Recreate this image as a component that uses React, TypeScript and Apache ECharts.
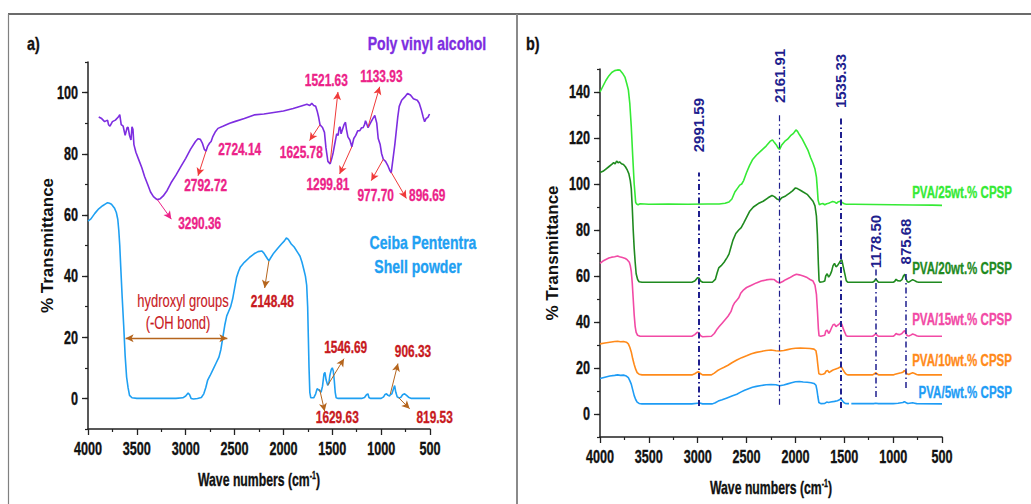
import React, { useEffect, useRef } from "react";
import * as echarts from "echarts";

// ---------- Panel a: spectra ----------
const pvaSpectrum: [number, number][] = [
  [3890, 92], [3860, 91.5], [3830, 90.5], [3800, 91], [3790, 89.5], [3775, 89], [3750, 90.5], [3720, 91],
  [3690, 92], [3675, 92.8], [3660, 89.5], [3640, 89], [3620, 86], [3600, 88.5], [3590, 88.7], [3575, 86],
  [3560, 84.5], [3550, 88.8], [3540, 88], [3530, 83], [3510, 80.5], [3480, 78], [3450, 75.5], [3420, 72.5],
  [3390, 70], [3360, 67.5], [3330, 66], [3300, 65.2], [3290.36, 65], [3260, 65.3], [3230, 66.2], [3190, 68],
  [3150, 70.5], [3100, 73], [3050, 75.8], [3000, 78.5], [2950, 81.5], [2900, 84], [2875, 84.9], [2850, 84.7],
  [2830, 83.5], [2810, 81.5], [2792.72, 80.8], [2775, 82.5], [2755, 83.5], [2740, 84], [2724.14, 85.5],
  [2700, 87], [2670, 88.3], [2620, 89], [2550, 90], [2500, 90.5], [2400, 91.5], [2300, 92.7], [2200, 93],
  [2100, 93.5], [2000, 94], [1900, 94.8], [1850, 95.3], [1800, 95.8], [1760, 96.2], [1730, 95.8], [1710, 96.5],
  [1690, 95.8], [1670, 95.5], [1655, 94], [1640, 92], [1625.78, 89.5], [1600, 88.6], [1580, 87], [1565, 82],
  [1545, 77.5], [1521.63, 76.7], [1505, 78.5], [1490, 80.5], [1470, 84], [1455, 86.5], [1440, 86], [1430, 88.5],
  [1420, 88.8], [1410, 86.5], [1395, 88], [1380, 89.5], [1365, 90.3], [1355, 88], [1340, 85.5], [1320, 84.5],
  [1299.81, 82.3], [1280, 85], [1260, 86], [1240, 87.5], [1220, 87.5], [1200, 88.5], [1185, 88.5], [1170, 89.5],
  [1160, 90.8], [1150, 90], [1133.93, 88.5], [1110, 90], [1085, 91.5], [1065, 92.5], [1045, 90], [1030, 85],
  [1010, 83], [995, 80], [977.7, 78.2], [955, 77.5], [930, 76], [910, 74.5], [896.69, 73.8], [880, 78],
  [860, 83], [845, 87.5], [830, 92], [815, 95.5], [790, 97.5], [760, 98.5], [730, 99.7], [700, 99.2],
  [670, 98], [630, 97.5], [610, 96.5], [590, 94.5], [570, 92], [555, 90.5], [540, 91.5], [520, 92], [505, 93],
];

const ceibaSpectrum: [number, number][] = [
  [4000, 58], [3970, 58.7], [3930, 60.5], [3890, 62], [3850, 63], [3820, 63.6], [3800, 64], [3780, 63.8],
  [3760, 63.5], [3730, 62.3], [3710, 60.8], [3695, 58.5], [3685, 55], [3675, 50], [3665, 43], [3650, 33],
  [3635, 24], [3620, 14], [3605, 7], [3590, 3.5], [3575, 1], [3550, 0.2], [3500, 0], [3300, 0], [3100, 0],
  [3030, 0.2], [3000, 0.8], [2975, 1.8], [2960, 1.2], [2945, 0], [2920, -0.2], [2880, 0], [2840, 0.3],
  [2815, 1.5], [2795, 3.5], [2775, 6], [2750, 7.5], [2720, 9.5], [2690, 11.5], [2660, 13.5], [2640, 16],
  [2620, 20], [2600, 24], [2580, 27], [2560, 28.5], [2540, 30], [2520, 32.5], [2500, 36], [2480, 39.5],
  [2460, 41.5], [2440, 43], [2400, 44.5], [2350, 46], [2300, 47.3], [2260, 48], [2220, 48.2], [2200, 47.5],
  [2180, 46.5], [2160, 45.5], [2148.48, 45], [2130, 46], [2100, 47.5], [2060, 49], [2020, 50.5], [1990, 51.5],
  [1970, 52.5], [1950, 52], [1920, 50.5], [1890, 49.5], [1860, 48], [1830, 46.5], [1810, 44.5], [1790, 42],
  [1775, 40], [1762, 37], [1752, 30], [1745, 20], [1738, 10], [1730, 2], [1720, 0.2], [1690, 0.2], [1670, 1.5],
  [1655, 3.2], [1640, 2.8], [1629.63, 2.5], [1615, 2], [1600, 4], [1585, 8], [1575, 8.5], [1563, 6],
  [1546.69, 4.3], [1535, 5], [1525, 7.5], [1510, 9.5], [1500, 10], [1490, 9], [1480, 6], [1470, 2], [1460, 0.2],
  [1440, 0], [1300, 0], [1200, 0], [1170, 0.3], [1150, 1.2], [1135, 1.5], [1125, 0.3], [1110, 0], [1000, 0],
  [975, 0.5], [960, 1.3], [945, 1.5], [930, 1], [915, 0.8], [906.33, 1.2], [890, 1.5], [875, 3], [862, 4.2],
  [850, 2], [835, 0.5], [819.53, 0.2], [800, 0.3], [780, 1.2], [760, 1.5], [740, 1], [720, 0.4], [690, 0],
  [600, 0], [500, 0],
];

// Peak callouts: [peak wavenumber, transmittance at peak, text x, text y, arrow head x, arrow head y]
const pvaPeaks: [number, number, number, number, number, number][] = [
  [3290.36, 65, 2857, 57.2, 3147, 58.6],
  [2792.72, 80.8, 2796, 69.8, 2874, 72.8],
  [1625.78, 89.5, 1817, 80.5, 1732, 84.3],
  [1521.63, 77.2, 1561, 104, 1442, 100.2],
  [1299.81, 82.3, 1544, 70, 1425, 73.4],
  [1133.93, 88.8, 998, 105.5, 1015, 101.9],
  [977.7, 78.2, 1056, 66.4, 1101, 71.2],
  [896.69, 73.9, 528, 66.4, 742, 65.4],
];
const pvaPlainLabels: [number, number, string][] = [[2448, 81.6, "2724.14"]];

const ceibaPeaks: [number, number, number, number, number, number][] = [
  [2148.48, 45, 2114, 31.7, 2192, 36.1],
  [1546.69, 4.3, 1363, 16.9, 1380, 13],
  [1629.63, 3, 1449, -6.1, 1578, -4.2],
  [906.33, 1.4, 674, 15.5, 828, 11.4],
  [819.53, 0.2, 453, -6.1, 708, -3.4],
];
const hydroxylSpan: [number, number, number] = [3615, 2574, 19.7];
const hydroxylText: [number, number, string][] = [
  [3028, 31.9, "hydroxyl groups"],
  [3079, 24.6, "(-OH bond)"],
];

// ---------- Panel b: composite films ----------
const pva25: [number, number][] = [
  [4000, 140], [3970, 142.5], [3940, 145], [3910, 147], [3880, 148.5], [3850, 149.3], [3820, 149.6], [3795, 149.5],
  [3770, 148.2], [3745, 146.5], [3725, 143.5], [3710, 141], [3695, 135], [3680, 125], [3665, 112], [3650, 100],
  [3635, 92], [3625, 91.3], [3610, 91], [3590, 91.4], [3500, 91.2], [3300, 91.3], [3100, 91.2], [2900, 91.3],
  [2780, 91.3], [2720, 91.6], [2680, 92.2], [2650, 93.5], [2620, 96.5], [2595, 98], [2570, 99.5], [2550, 100],
  [2530, 101.5], [2500, 105], [2470, 108], [2440, 110.5], [2400, 112.5], [2350, 114.5], [2300, 116.5],
  [2260, 118.5], [2235, 119.2], [2215, 118], [2195, 117], [2180, 115.8], [2161.91, 115], [2140, 117],
  [2110, 118.5], [2080, 119.5], [2050, 121], [2020, 122], [1995, 123.5], [1980, 123], [1960, 121.5],
  [1930, 119.5], [1900, 117], [1870, 114.5], [1845, 111.5], [1820, 109], [1800, 106.5], [1785, 103],
  [1776, 98], [1768, 93], [1755, 91], [1740, 91.3], [1720, 91.5], [1700, 91], [1680, 91.4], [1660, 91.6],
  [1640, 92], [1620, 92.4], [1600, 92.2], [1580, 91.6], [1560, 92.3], [1540, 92.5], [1520, 91.9], [1500, 91.4],
  [1480, 91.2], [1400, 91.2], [1200, 91.1], [1000, 91], [800, 90.9], [600, 90.8], [500, 90.7],
];

const pva20: [number, number][] = [
  [4000, 105], [3970, 105.5], [3940, 106.5], [3910, 107.5], [3880, 108.5], [3860, 109.3], [3845, 108.7],
  [3830, 110], [3815, 109.2], [3800, 109.6], [3780, 108.8], [3760, 108.5], [3740, 107.5], [3720, 106],
  [3705, 104.5], [3690, 101.5], [3680, 98], [3670, 90], [3660, 80], [3650, 72], [3640, 66], [3630, 61],
  [3615, 58.5], [3600, 57.5], [3570, 57.3], [3300, 57.3], [3060, 57.3], [3030, 57.8], [3000, 59.3], [2985, 59],
  [2970, 57.8], [2950, 57.3], [2850, 57.3], [2820, 58.5], [2800, 61.5], [2785, 63.5], [2760, 64.5], [2730, 66],
  [2700, 68], [2680, 69.5], [2660, 72.5], [2640, 75.5], [2610, 78.5], [2580, 80], [2555, 81], [2530, 83],
  [2500, 85.5], [2470, 88], [2430, 90], [2380, 91.5], [2330, 92.5], [2280, 94], [2240, 95], [2215, 94.5],
  [2190, 93.5], [2161.91, 93], [2140, 94], [2100, 94.8], [2060, 96], [2030, 97], [2000, 98.3], [1980, 98],
  [1950, 97.3], [1920, 96.5], [1880, 95.5], [1850, 94], [1820, 92.5], [1800, 90.5], [1785, 86], [1775, 78],
  [1765, 65], [1758, 58], [1750, 57.3], [1720, 57.5], [1700, 57.8], [1690, 60], [1675, 61], [1660, 59.5],
  [1645, 60.5], [1630, 62], [1615, 64.5], [1600, 65.5], [1585, 64], [1570, 64.5], [1555, 65.5], [1540, 66.5],
  [1525, 67], [1510, 64], [1495, 61], [1480, 58], [1465, 57.3], [1300, 57.3], [1210, 57.3], [1190, 57.8],
  [1178.5, 58.8], [1165, 58], [1150, 57.3], [1000, 57.3], [985, 57.6], [970, 58.6], [955, 58], [930, 57.8],
  [910, 58.4], [895, 60], [880, 60.8], [870, 59], [855, 57.5], [840, 57.3], [820, 57.9], [800, 58.4],
  [780, 58], [760, 57.5], [740, 57.3], [500, 57.3],
];

const pva15: [number, number][] = [
  [4000, 65.5], [3970, 66.5], [3940, 67.2], [3910, 67.8], [3880, 68.2], [3850, 68.4], [3820, 68.7], [3800, 68.4],
  [3770, 68], [3740, 67.6], [3720, 67], [3700, 66], [3690, 64.5], [3680, 62], [3670, 57], [3660, 50],
  [3650, 43], [3640, 38], [3630, 35.5], [3615, 34.2], [3590, 33.8], [3300, 33.8], [3060, 33.8], [3030, 34.5],
  [3005, 35.5], [2990, 35.3], [2970, 34], [2950, 33.6], [2860, 33.8], [2830, 35], [2800, 37], [2780, 38],
  [2750, 39.5], [2720, 41], [2690, 42.5], [2660, 44.5], [2640, 47], [2620, 48.5], [2600, 49.5], [2580, 50.5],
  [2560, 52.5], [2530, 54], [2500, 55], [2450, 56], [2400, 57], [2350, 57.8], [2300, 58.3], [2250, 58.6],
  [2220, 58.5], [2190, 57.5], [2161.91, 57], [2130, 57.6], [2100, 58.4], [2060, 59.2], [2020, 60.2],
  [1990, 60.8], [1960, 60.5], [1920, 60], [1880, 59.3], [1850, 58.5], [1820, 57.8], [1800, 56], [1785, 52],
  [1775, 45], [1765, 37], [1758, 34], [1740, 33.8], [1720, 34], [1700, 34.2], [1690, 36], [1675, 36.5],
  [1660, 35], [1645, 36], [1630, 37.5], [1615, 38.8], [1600, 39], [1585, 38], [1570, 38.5], [1555, 39],
  [1540, 39.7], [1525, 39], [1510, 37], [1495, 35.5], [1480, 34], [1465, 33.8], [1300, 33.8], [1210, 33.8],
  [1190, 34.4], [1178.5, 34.9], [1165, 34.3], [1150, 33.8], [1000, 33.8], [985, 34.2], [970, 35], [955, 34.6],
  [930, 34.5], [910, 35], [895, 35.8], [880, 36.3], [870, 35], [855, 34], [840, 33.9], [820, 34.3],
  [800, 34.8], [780, 34.5], [760, 34], [740, 33.8], [500, 33.8],
];

const pva10: [number, number][] = [
  [4000, 30.5], [3950, 30.9], [3900, 31.2], [3850, 31.5], [3820, 31.6], [3790, 31.4], [3760, 31.5], [3730, 31.2],
  [3710, 30.5], [3695, 29], [3680, 27], [3665, 24], [3650, 21.5], [3635, 19.5], [3620, 18], [3600, 17.3],
  [3570, 17], [3300, 17], [3060, 17], [3030, 17.5], [3005, 18.2], [2990, 18.3], [2970, 17.5], [2950, 17],
  [2860, 17], [2830, 17.8], [2800, 18.8], [2770, 19.5], [2730, 20.3], [2690, 21.2], [2650, 22.3], [2600, 23.5],
  [2550, 24.5], [2500, 25.3], [2450, 26.2], [2400, 26.8], [2350, 27.2], [2300, 27.6], [2250, 27.8], [2200, 27.5],
  [2161.91, 27.4], [2120, 27.6], [2080, 28], [2040, 28.4], [2000, 28.6], [1950, 28.7], [1900, 28.6], [1850, 28.5],
  [1810, 28.2], [1790, 27.5], [1780, 25], [1770, 21], [1760, 17.5], [1740, 17.2], [1720, 17.3], [1700, 17.6],
  [1685, 18.7], [1670, 18.9], [1655, 18], [1640, 18.5], [1620, 19], [1600, 19.4], [1580, 19.7], [1560, 20],
  [1540, 20.5], [1525, 20.2], [1510, 19], [1495, 18], [1480, 17.3], [1465, 17], [1300, 17], [1210, 17],
  [1190, 17.5], [1178.5, 18], [1165, 17.5], [1150, 17], [1000, 17], [980, 17.3], [950, 17.6], [920, 17.9],
  [900, 18.2], [885, 18.9], [875, 18.5], [860, 17.5], [840, 17.2], [820, 17.6], [800, 17.9], [780, 17.6],
  [760, 17.2], [740, 17], [500, 17],
];

const pva5: [number, number | string][] = [
  [4000, 15.4], [3950, 16], [3900, 16.5], [3850, 16.8], [3820, 17], [3790, 16.8], [3760, 16.9], [3730, 16.5],
  [3710, 15.8], [3695, 14.5], [3680, 13], [3665, 10.5], [3650, 8], [3635, 6.3], [3620, 5.2], [3600, 4.6],
  [3570, 4.4], [3300, 4.4], [3060, 4.4], [3000, 4.7], [2980, 4.8], [2950, 4.4], [2850, 4.4], [2820, 4.9],
  [2790, 5.6], [2750, 6.2], [2700, 7], [2650, 7.8], [2600, 8.6], [2560, 9.5], [2520, 10.3], [2480, 11],
  [2440, 11.6], [2400, 12], [2350, 12.4], [2300, 12.7], [2250, 12.8], [2200, 12.7], [2161.91, 12.3],
  [2120, 12.6], [2080, 13.1], [2040, 13.6], [2000, 14], [1960, 14.1], [1920, 13.9], [1880, 13.8], [1840, 13.6],
  [1810, 13.3], [1790, 12.5], [1780, 10.5], [1770, 7.5], [1760, 5], [1740, 4.5], [1700, 4.6], [1680, 5.2],
  [1660, 5], [1640, 5.2], [1600, 5.5], [1570, 5.8], [1550, 6.2], [1535.33, 6.5], [1520, 5.8], [1505, 5],
  [1490, 4.6], [1470, 4.5], [1452, 4.5], [1440, "-"], [1428, 4.5], [1300, 4.5], [1200, 4.5], [1178.5, 4.7],
  [1150, 4.5], [1000, 4.5], [950, 4.7], [900, 5], [885, 5.4], [870, 5], [850, 4.6], [800, 4.9], [780, 4.7],
  [760, 4.5], [500, 4.4],
];

const compositeNames = ["PVA/25wt.% CPSP", "PVA/20wt.% CPSP", "PVA/15wt.% CPSP", "PVA/10wt.% CPSP", "PVA/5wt.% CPSP"];
const compositeColors = ["#35ea35", "#1f8a1f", "#f24aa5", "#ff8a1a", "#1e9cf5"];
const compositeData = [pva25, pva20, pva15, pva10, pva5];
// vertical level (in % transmittance units) of each series name
const compositeNameLevels = [96.5, 63.5, 41.3, 23.5, 9.6];

// Marker lines in panel b: [wavenumber, lower end, upper end, label centre]
const bandMarkers: [number, number, number, number][] = [
  [2991.59, 3.5, 105, 125.6],
  [2161.91, 4, 131, 147],
  [1535.33, 2.6, 129.6, 144.8],
  [1178.5, 7.4, 64, 75],
  [875.68, 11.3, 61.7, 75],
];

const xTickValues = [4000, 3500, 3000, 2500, 2000, 1500, 1000, 500];
const yTicksA = [0, 20, 40, 60, 80, 100];
const yTicksB = [0, 20, 40, 60, 80, 100, 120, 140];

const FONT = "'Liberation Sans', Arial, sans-serif";
// horizontal squeeze applied to the condensed-looking horizontal texts
const SQUEEZE = 0.7;

const PVA_COLOR = "#7d2de0";
const CEIBA_COLOR = "#1fa0f2";
const PINK = "#ec2288";
const RED_ARROW = "#f03a3a";
const DARK_RED = "#c8191e";
const BROWN = "#b5651d";
const NAVY = "#1f1f8e";
const INK = "#111111";

function fmt(v: number) {
  return v.toFixed(2);
}

function arrowSeries(
  xi: number,
  yi: number,
  segs: [number, number, number, number][],
  color: string,
  symbol: string[],
  width = 1,
  dash: any = "solid"
) {
  return {
    type: "line",
    xAxisIndex: xi,
    yAxisIndex: yi,
    data: [],
    clip: false,
    silent: true,
    markLine: {
      silent: true,
      symbol,
      symbolSize: [6, 8],
      label: { show: false },
      emphasis: { disabled: true },
      lineStyle: { color, width, type: dash },
      data: segs.map(([x1, y1, x2, y2]) => [{ coord: [x1, y1] }, { coord: [x2, y2] }]),
    },
  };
}

function xAxisDef(gridIndex: number) {
  return {
    type: "value",
    gridIndex,
    min: 500,
    max: 4000,
    interval: 500,
    inverse: true,
    axisLine: { onZero: false, lineStyle: { color: "#222", width: 1.5 } },
    axisTick: { show: true, inside: false, length: 6, lineStyle: { color: "#222", width: 1.3 } },
    minorTick: { show: true, splitNumber: 2, length: 3, lineStyle: { color: "#222", width: 1.2 } },
    axisLabel: { show: false },
    splitLine: { show: false },
  };
}

function yAxisPair(gridIndex: number, min: number, max: number, ticks: number[]) {
  return [
    {
      type: "value",
      gridIndex,
      position: "left",
      min,
      max,
      axisLine: { onZero: false, lineStyle: { color: "#222", width: 1.5 } },
      axisTick: { show: true, inside: false, length: 6, customValues: ticks, lineStyle: { color: "#222", width: 1.3 } },
      axisLabel: { show: false },
      splitLine: { show: false },
    },
    {
      type: "value",
      gridIndex,
      position: "left",
      min,
      max,
      interval: 10,
      axisLine: { show: false, onZero: false },
      axisTick: { show: true, inside: false, length: 3, lineStyle: { color: "#222", width: 1.2 } },
      axisLabel: { show: false },
      splitLine: { show: false },
    },
  ];
}

function flatText(
  x: number,
  y: number,
  text: string,
  fill: string,
  size: number,
  weight = "bold",
  align = "center",
  squeeze = SQUEEZE,
  rich?: any
) {
  return {
    type: "text",
    x,
    y,
    scaleX: squeeze,
    silent: true,
    z: 20,
    style: {
      text,
      fill,
      stroke: fill,
      lineWidth: weight === "bold" ? 0.35 : 0.15,
      fontSize: size,
      fontWeight: weight,
      fontFamily: FONT,
      align,
      verticalAlign: "middle",
      rich,
    },
  };
}

function upText(x: number, y: number, text: string, fill: string, size: number) {
  return {
    type: "text",
    x,
    y,
    rotation: Math.PI / 2,
    silent: true,
    z: 20,
    style: { text, fill, fontSize: size, fontWeight: "bold", fontFamily: FONT, align: "center", verticalAlign: "middle" },
  };
}

export default function App() {
  const ref = useRef<HTMLDivElement>(null);

  useEffect(() => {
    if (!ref.current) return;
    const chart = echarts.init(ref.current, null, { renderer: "svg" });

    const series: any[] = [];

    // panel a curves
    series.push({
      type: "line",
      name: "Poly vinyl alcohol",
      xAxisIndex: 0,
      yAxisIndex: 0,
      data: pvaSpectrum,
      showSymbol: false,
      silent: true,
      lineStyle: { color: PVA_COLOR, width: 1.6 },
      z: 3,
    });
    series.push({
      type: "line",
      name: "Ceiba Pententra Shell powder",
      xAxisIndex: 0,
      yAxisIndex: 0,
      data: ceibaSpectrum,
      showSymbol: false,
      silent: true,
      lineStyle: { color: CEIBA_COLOR, width: 1.6 },
      z: 3,
    });

    // panel a arrows
    const seg = (p: number[]) => [p[0], p[1], p[4], p[5]] as [number, number, number, number];
    series.push(arrowSeries(0, 0, pvaPeaks.slice(0, 1).map(seg), PINK, ["none", "arrow"]));
    series.push(arrowSeries(0, 0, pvaPeaks.slice(1).map(seg), RED_ARROW, ["none", "arrow"]));
    series.push(arrowSeries(0, 0, ceibaPeaks.map(seg), BROWN, ["none", "arrow"]));
    series.push(
      arrowSeries(0, 0, [[hydroxylSpan[0], hydroxylSpan[2], hydroxylSpan[1], hydroxylSpan[2]]], BROWN, ["arrow", "arrow"], 1.3)
    );

    // panel b curves
    compositeData.forEach((d, i) => {
      series.push({
        type: "line",
        name: compositeNames[i],
        xAxisIndex: 1,
        yAxisIndex: 2,
        data: d,
        showSymbol: false,
        silent: true,
        connectNulls: false,
        lineStyle: { color: compositeColors[i], width: 1.6 },
        z: 3,
      });
    });

    // panel b band markers
    const markerWidths = [2, 1.2, 2, 1.5, 1.5];
    bandMarkers.forEach((m, i) => {
      series.push(arrowSeries(1, 2, [[m[0], m[1], m[0], m[2]]], NAVY, ["none", "none"], markerWidths[i], [6, 3, 1.5, 3]));
    });

    chart.setOption({
      animation: false,
      backgroundColor: "#ffffff",
      grid: [
        { left: 88, top: 62, width: 342, height: 367 },
        { left: 600, top: 69, width: 342, height: 368 },
      ],
      xAxis: [xAxisDef(0), xAxisDef(1)],
      yAxis: [...yAxisPair(0, -10, 110, yTicksA), ...yAxisPair(1, -10, 150, yTicksB)],
      series,
    });

    // texts placed through the axes' own scales
    const px = (xi: number, x: number) => chart.convertToPixel({ xAxisIndex: xi } as any, x) as number;
    const py = (yi: number, y: number) => chart.convertToPixel({ yAxisIndex: yi } as any, y) as number;

    const g: any[] = [
      { type: "line", shape: { x1: 8, y1: 14, x2: 1031, y2: 14 }, style: { stroke: "#3a3a3a", lineWidth: 1.5 } },
      { type: "line", shape: { x1: 8.5, y1: 14, x2: 8.5, y2: 504 }, style: { stroke: "#808080", lineWidth: 1.2 } },
      { type: "line", shape: { x1: 517, y1: 14, x2: 517, y2: 504 }, style: { stroke: "#8a8a8a", lineWidth: 2 } },
      flatText(27, 43, "a)", INK, 18, "bold", "left", 0.8),
      flatText(526, 43, "b)", INK, 18, "bold", "left", 0.8),
      flatText(427, 43, "Poly vinyl alcohol", PVA_COLOR, 18, "bold", "center", 0.78),
      flatText(423, 242, "Ceiba Pententra", CEIBA_COLOR, 18, "bold", "center", 0.78),
      flatText(418, 266, "Shell powder", CEIBA_COLOR, 18, "bold", "center", 0.78),
    ];

    const sup = { sup: { fontSize: 10, fontWeight: "bold", fontFamily: FONT, fill: INK, verticalAlign: "top", padding: [0, 0, 8, 0] } };

    // axis tick labels, axis names
    const panels = [
      { xi: 0, yi: 0, ticks: yTicksA, yMin: -10, yMax: 110, yName: 47 },
      { xi: 1, yi: 2, ticks: yTicksB, yMin: -10, yMax: 150, yName: 552 },
    ];
    panels.forEach((p) => {
      const axisY = py(p.yi, p.yMin);
      const axisX = px(p.xi, 4000);
      xTickValues.forEach((v) => g.push(flatText(px(p.xi, v), axisY + 20, String(v), INK, 18)));
      p.ticks.forEach((v) => g.push(flatText(axisX - 10, py(p.yi, v), String(v), INK, 18, "bold", "right")));
      g.push(
        flatText((px(p.xi, 4000) + px(p.xi, 500)) / 2, axisY + 51, "Wave numbers (cm{sup|-1})", INK, 17.5, "bold", "center", SQUEEZE, sup)
      );
      g.push(upText(p.yName, (py(p.yi, p.yMin) + py(p.yi, p.yMax)) / 2, "% Transmittance", INK, 17));
    });

    // panel a callout texts
    pvaPeaks.forEach((p) => g.push(flatText(px(0, p[2]), py(0, p[3]), fmt(p[0]), PINK, 17)));
    pvaPlainLabels.forEach((p) => g.push(flatText(px(0, p[0]), py(0, p[1]), p[2], PINK, 17)));
    ceibaPeaks.forEach((p) => g.push(flatText(px(0, p[2]), py(0, p[3]), fmt(p[0]), DARK_RED, 17)));
    hydroxylText.forEach((p) => g.push(flatText(px(0, p[0]), py(0, p[1]), p[2], DARK_RED, 17.5, "normal", "center", 0.74)));

    // panel b marker texts and series names
    bandMarkers.forEach((m) => g.push(upText(px(1, m[0]), py(2, m[3]), fmt(m[0]), NAVY, 15)));
    compositeNames.forEach((n, i) =>
      g.push(flatText(1012, py(2, compositeNameLevels[i]), n, compositeColors[i], 17, "bold", "right", 0.68))
    );

    chart.setOption({ graphic: g });

    return () => chart.dispose();
  }, []);

  return <div ref={ref} style={{ position: "fixed", left: 0, top: 0, width: 1031, height: 504 }} />;
}
